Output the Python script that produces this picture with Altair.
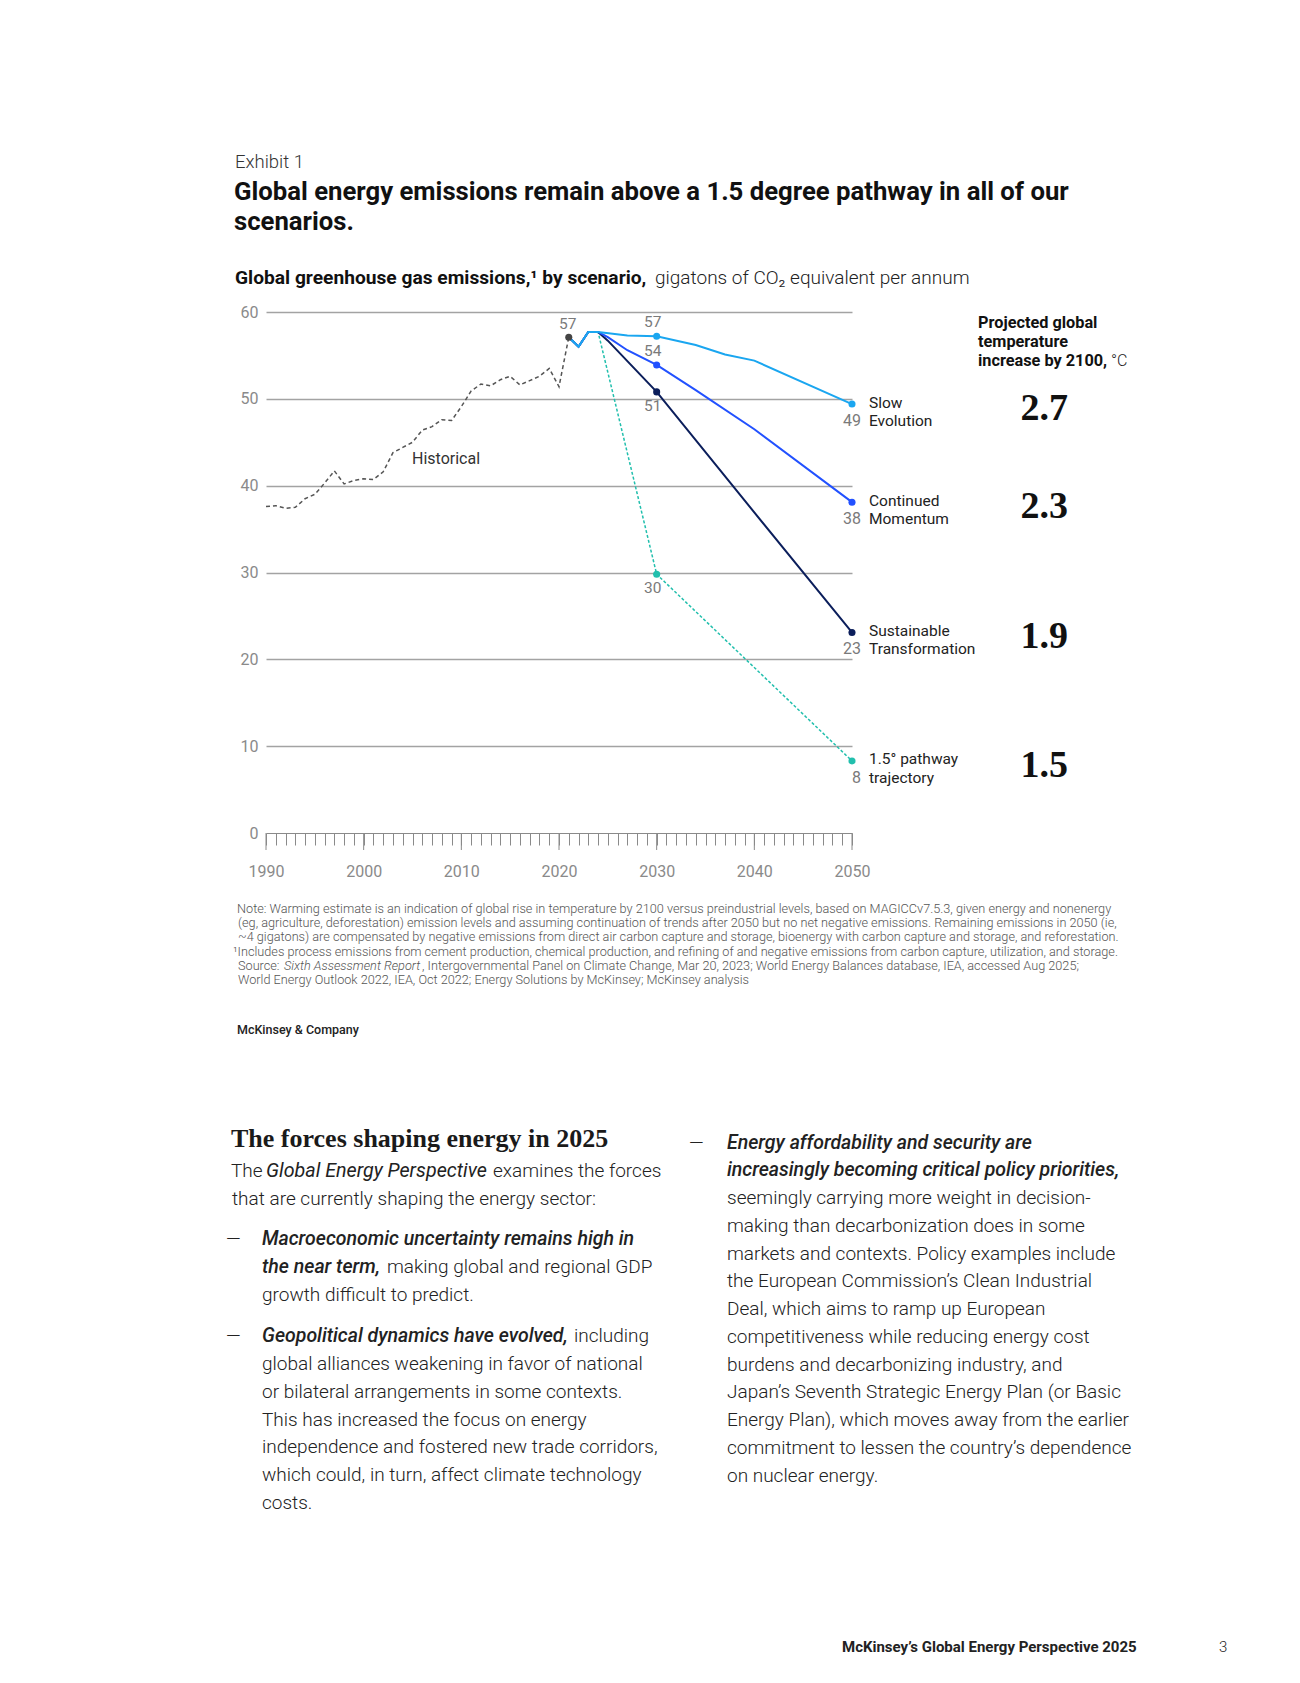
import altair as alt
import pandas as pd

# ---------------------------------------------------------------- data
HIST_YEARS = list(range(1990, 2022))
HIST_VALUES = [37.6, 37.7, 37.4, 37.5, 38.5, 39.0, 40.3, 41.7, 40.2, 40.6,
               40.8, 40.7, 41.6, 43.8, 44.4, 45.0, 46.4, 46.8, 47.6, 47.5,
               49.1, 50.9, 51.7, 51.5, 52.2, 52.6, 51.6, 52.1, 52.6, 53.5,
               51.4, 57.1]

SHARED_YEARS = [2021, 2022, 2023, 2024]
SHARED_VALUES = [57.1, 56.0, 57.7, 57.7]

SCENARIOS = ["Slow Evolution", "Continued Momentum",
             "Sustainable Transformation", "1.5° pathway trajectory"]
SE_YEARS = [2027, 2030, 2034, 2037, 2040, 2050]
SE_VALUES = [57.3, 57.2, 56.2, 55.1, 54.4, 49.4]
CM_YEARS = [2025, 2027, 2030, 2034, 2040, 2050]
CM_VALUES = [57.1, 55.6, 53.9, 51.0, 46.5, 38.1]
ST_YEARS = [2025, 2030, 2039, 2050]
ST_VALUES = [56.7, 50.8, 38.3, 23.1]
P15_YEARS = [2030, 2050]
P15_VALUES = [29.8, 8.3]

LABEL_LINE1 = ["Slow", "Continued", "Sustainable", "1.5° pathway"]
LABEL_LINE2 = ["Evolution", "Momentum", "Transformation", "trajectory"]
LABEL_2030 = ["57", "54", "51", "30"]
LABEL_2050 = ["49", "38", "23", "8"]
TEMPS = ["2.7", "2.3", "1.9", "1.5"]
HIST_LAST_LABEL = "57"

DECADES = [1990, 2000, 2010, 2020, 2030, 2040, 2050]
Y_TICKS = [0, 10, 20, 30, 40, 50, 60]

EXHIBIT = "Exhibit 1"
TITLE_LINES = ["Global energy emissions remain above a 1.5 degree pathway in all of our",
               "scenarios."]
SUB_BOLD = "Global greenhouse gas emissions,¹ by scenario,"
SUB_REG = "gigatons of CO₂ equivalent per annum"
HEADER_LINES = ["Projected global", "temperature", "increase by 2100,"]
HEADER_UNIT = "°C"
HIST_LABEL = "Historical"

NOTE_LINES = [
    "Note: Warming estimate is an indication of global rise in temperature by 2100 versus preindustrial levels, based on MAGICCv7.5.3, given energy and nonenergy",
    "(eg, agriculture, deforestation) emission levels and assuming continuation of trends after 2050 but no net negative emissions. Remaining emissions in 2050 (ie,",
    "~4 gigatons) are compensated by negative emissions from direct air carbon capture and storage, bioenergy with carbon capture and storage, and reforestation.",
    "¹Includes process emissions from cement production, chemical production, and refining of and negative emissions from carbon capture, utilization, and storage.",
]
SOURCE_PARTS = ["Source: ", "Sixth Assessment Report",
                ", Intergovernmental Panel on Climate Change, Mar 20, 2023; World Energy Balances database, IEA, accessed Aug 2025;"]
SOURCE_LINE2 = "World Energy Outlook 2022, IEA, Oct 2022; Energy Solutions by McKinsey; McKinsey analysis"
BRAND = "McKinsey & Company"

HEADING = "The forces shaping energy in 2025"
INTRO_PARTS = ["The", "Global Energy Perspective", "examines the forces"]
INTRO_LINE2 = "that are currently shaping the energy sector:"
B1_ITALIC = ["Macroeconomic uncertainty remains high in", "the near term,"]
B1_REST = ["making global and regional GDP", "growth difficult to predict."]
B2_ITALIC = "Geopolitical dynamics have evolved,"
B2_REST = ["including",
           "global alliances weakening in favor of national",
           "or bilateral arrangements in some contexts.",
           "This has increased the focus on energy",
           "independence and fostered new trade corridors,",
           "which could, in turn, affect climate technology",
           "costs."]
B3_ITALIC = ["Energy affordability and security are",
             "increasingly becoming critical policy priorities,"]
B3_REST = ["seemingly carrying more weight in decision-",
           "making than decarbonization does in some",
           "markets and contexts. Policy examples include",
           "the European Commission’s Clean Industrial",
           "Deal, which aims to ramp up European",
           "competitiveness while reducing energy cost",
           "burdens and decarbonizing industry, and",
           "Japan’s Seventh Strategic Energy Plan (or Basic",
           "Energy Plan), which moves away from the earlier",
           "commitment to lessen the country’s dependence",
           "on nuclear energy."]
FOOTER = "McKinsey’s Global Energy Perspective 2025"
PAGE_NO = "3"

# ---------------------------------------------------------------- style
SANS = "Roboto"
SERIF = "Liberation Serif"
COLORS = ["#1AA6F0", "#2251FF", "#0B1E5B", "#22BFAD"]
GRAY = "#8a8a8a"

W, H = 586, 521
OX, OY = 266, 312          # page position of the plot origin

# ---------------------------------------------------------------- tables
hist_df = pd.DataFrame({"year": HIST_YEARS, "value": HIST_VALUES})
series_years = [SE_YEARS, CM_YEARS, ST_YEARS, P15_YEARS]
series_vals = [SE_VALUES, CM_VALUES, ST_VALUES, P15_VALUES]
rows = []
for name, ys, vs in zip(SCENARIOS, series_years, series_vals):
    for y, v in zip(SHARED_YEARS + ys, SHARED_VALUES + vs):
        rows.append({"scenario": name, "year": y, "value": v})
lines_df = pd.DataFrame(rows)

mid_df = pd.DataFrame({
    "scenario": SCENARIOS,
    "year": [2030] * 4,
    "value": [vs[ys.index(2030)] for ys, vs in zip(series_years, series_vals)],
    "label": LABEL_2030,
})
end_df = pd.DataFrame({
    "scenario": SCENARIOS,
    "year": [2050] * 4,
    "value": [vs[-1] for vs in series_vals],
    "label": LABEL_2050,
    "l1": LABEL_LINE1,
    "l2": LABEL_LINE2,
    "temp": TEMPS,
})
hist_last = pd.DataFrame({"year": [HIST_YEARS[-1]], "value": [HIST_VALUES[-1]],
                          "label": [HIST_LAST_LABEL]})
decade_df = pd.DataFrame({"year": DECADES})

# ---------------------------------------------------------------- encodings
X = alt.X("year:Q",
          scale=alt.Scale(domain=[1990, 2050], nice=False, zero=False),
          axis=alt.Axis(title=None, values=list(range(1990, 2051)), grid=False,
                        tickSize=12, tickColor=GRAY, tickWidth=1,
                        domainColor=GRAY, domainWidth=1,
                        labelExpr="datum.value % 10 === 0 ? '' + datum.value : ''",
                        labelFont=SANS, labelFontSize=16, labelColor=GRAY,
                        labelPadding=18, labelOverlap=False, labelFlush=False,
                        labelBound=False))
Y = alt.Y("value:Q",
          scale=alt.Scale(domain=[0, 60], nice=False),
          axis=alt.Axis(title=None, values=Y_TICKS, domain=False, ticks=False,
                        grid=True, gridColor="#a3a3a3", gridWidth=1.5,
                        gridOpacity={"condition": {"test": "datum.value === 0", "value": 0},
                                     "value": 1},
                        labelFont=SANS, labelFontSize=16, labelColor=GRAY,
                        labelPadding=8))
COLOR = alt.Color("scenario:N", scale=alt.Scale(domain=SCENARIOS, range=COLORS),
                  legend=None)

layers = []

# major ticks
layers.append(alt.Chart(decade_df).mark_rule(color=GRAY, strokeWidth=1).encode(
    x=X, y=alt.value(H), y2=alt.value(H + 17)))

# historical
layers.append(alt.Chart(hist_df).mark_line(color="#555555", strokeWidth=1.5,
                                           strokeDash=[4, 3]).encode(x=X, y=Y))

# scenario lines (draw order: teal, navy, blue, light blue on top)
styles = {
    SCENARIOS[3]: dict(strokeWidth=1.5, strokeDash=[3, 2]),
    SCENARIOS[2]: dict(strokeWidth=2),
    SCENARIOS[1]: dict(strokeWidth=2),
    SCENARIOS[0]: dict(strokeWidth=2),
}
for name in [SCENARIOS[3], SCENARIOS[2], SCENARIOS[1], SCENARIOS[0]]:
    col = COLORS[SCENARIOS.index(name)]
    layers.append(alt.Chart(lines_df[lines_df.scenario == name]).mark_line(
        color=col, **styles[name]).encode(x=X, y=Y))

# points
layers.append(alt.Chart(hist_last).mark_point(filled=True, size=50, opacity=1,
                                              color="#444444").encode(x=X, y=Y))
for d in (mid_df, end_df):
    layers.append(alt.Chart(d).mark_point(filled=True, size=50, opacity=1).encode(
        x=X, y=Y, color=COLOR))

# value labels
lab = dict(font=SANS, fontSize=15.5, color="#7a7a7a", baseline="middle")
layers.append(alt.Chart(hist_last).mark_text(align="center", dx=-1, dy=-13, **lab).encode(
    x=X, y=Y, text="label:N"))
layers.append(alt.Chart(mid_df[mid_df.scenario.isin(SCENARIOS[:2])]).mark_text(
    align="center", dx=-4, dy=-14, **lab).encode(x=X, y=Y, text="label:N"))
layers.append(alt.Chart(mid_df[mid_df.scenario.isin(SCENARIOS[2:])]).mark_text(
    align="center", dx=-4, dy=14, **lab).encode(x=X, y=Y, text="label:N"))
layers.append(alt.Chart(end_df).mark_text(align="right", dx=9, dy=17, font=SANS,
                                          fontSize=16, color="#7a7a7a",
                                          baseline="middle").encode(
    x=X, y=Y, text="label:N"))
layers.append(alt.Chart(end_df).mark_text(align="left", dx=17, dy=-1.5, font=SANS,
                                          fontSize=15.5, color="#222222",
                                          baseline="middle").encode(
    x=X, y=Y, text="l1:N"))
layers.append(alt.Chart(end_df).mark_text(align="left", dx=17, dy=17, font=SANS,
                                          fontSize=15.5, color="#222222",
                                          baseline="middle").encode(
    x=X, y=Y, text="l2:N"))
layers.append(alt.Chart(end_df).mark_text(align="right", dx=216, dy=5, font=SERIF,
                                          fontSize=38, fontWeight="bold",
                                          color="#111111", baseline="middle").encode(
    x=X, y=Y, text="temp:N"))


# ---------------------------------------------------------------- page text
def txt(s, px, py, size, font=SANS, weight=400, style="normal", color="#222222",
        align="left"):
    return alt.Chart(pd.DataFrame({"t": [s]})).mark_text(
        align=align, baseline="middle", font=font, fontSize=size, fontWeight=weight,
        fontStyle=style, color=color).encode(
        x=alt.value(px - OX), y=alt.value(py - OY), text="t:N")


layers.append(txt(HIST_LABEL, 412, 459, 16, color="#333333"))

layers.append(txt(EXHIBIT, 235, 162, 18.5, weight=300, color="#333333"))
layers.append(txt(TITLE_LINES[0], 234, 192, 25.7, weight="bold", color="#111111"))
layers.append(txt(TITLE_LINES[1], 234, 221.5, 25.7, weight="bold", color="#111111"))
layers.append(txt(SUB_BOLD, 235, 278, 19.2, weight="bold", color="#111111"))
layers.append(txt(SUB_REG, 655, 278, 19, weight=300, color="#222222"))

for i, s in enumerate(HEADER_LINES):
    layers.append(txt(s, 978, 323 + 19 * i, 16.3, weight="bold", color="#111111"))
layers.append(txt(HEADER_UNIT, 1111, 361, 16, weight=300, color="#222222"))

# notes
NOTE = 12.7
NCOL = "#555555"
note_x = [237, 238, 238, 233]
note_y = [909, 923, 937, 952]
for s, x, y in zip(NOTE_LINES, note_x, note_y):
    layers.append(txt(s, x, y, NOTE, weight=300, color=NCOL))
layers.append(txt(SOURCE_PARTS[0], 238, 966, NOTE, weight=300, color=NCOL))
layers.append(txt(SOURCE_PARTS[1], 284, 966, NOTE, weight=300, style="italic", color=NCOL))
layers.append(txt(SOURCE_PARTS[2], 422, 966, NOTE, weight=300, color=NCOL))
layers.append(txt(SOURCE_LINE2, 238, 980, NOTE, weight=300, color=NCOL))
layers.append(txt(BRAND, 237, 1030, 12.5, weight=500, color="#222222"))

# body, left column
BODY = 19
ITAL = 19.5
BC = "#222222"
DASH = 19
layers.append(txt(HEADING, 231, 1139, 26, font=SERIF, weight="bold", color="#1a1a1a"))
layers.append(txt(INTRO_PARTS[0], 231, 1171, BODY, weight=300, color=BC))
layers.append(txt(INTRO_PARTS[1], 266, 1171, 19.7, weight=400, style="italic", color=BC))
layers.append(txt(INTRO_PARTS[2], 493, 1171, BODY, weight=300, color=BC))
layers.append(txt(INTRO_LINE2, 232, 1199, BODY, weight=300, color=BC))

layers.append(txt("—", 226, 1239, DASH, weight=300, color=BC))
layers.append(txt(B1_ITALIC[0], 262, 1239, ITAL, weight=500, style="italic", color=BC))
layers.append(txt(B1_ITALIC[1], 262, 1267, ITAL, weight=500, style="italic", color=BC))
layers.append(txt(B1_REST[0], 387, 1267, BODY, weight=300, color=BC))
layers.append(txt(B1_REST[1], 262, 1295, BODY, weight=300, color=BC))

layers.append(txt("—", 226, 1336, DASH, weight=300, color=BC))
layers.append(txt(B2_ITALIC, 262, 1336, ITAL, weight=500, style="italic", color=BC))
layers.append(txt(B2_REST[0], 574, 1336, BODY, weight=300, color=BC))
for i, s in enumerate(B2_REST[1:]):
    layers.append(txt(s, 262, 1364 + 27.8 * i, BODY, weight=300, color=BC))

# body, right column
layers.append(txt("—", 689, 1143, DASH, weight=300, color=BC))
layers.append(txt(B3_ITALIC[0], 727, 1143, ITAL, weight=500, style="italic", color=BC))
layers.append(txt(B3_ITALIC[1], 727, 1170, ITAL, weight=500, style="italic", color=BC))
for i, s in enumerate(B3_REST):
    layers.append(txt(s, 727, 1198 + 27.75 * i, BODY, weight=300, color=BC))

# footer
layers.append(txt(FOOTER, 842, 1647, 15, weight="bold", color="#222222"))
layers.append(txt(PAGE_NO, 1219, 1647, 15, weight=300, color="#222222"))

chart = alt.layer(*layers).properties(
    width=W, height=H,
    autosize=alt.AutoSizeParams(type="none"),
    padding={"left": OX - 8, "top": OY - 8, "right": 1284 - (OX - 8) - W,
             "bottom": 1660 - (OY - 8) - H},
    background="white",
).configure_view(stroke=None)

chart.save("out.html", embed_options={"renderer": "svg", "actions": False})
